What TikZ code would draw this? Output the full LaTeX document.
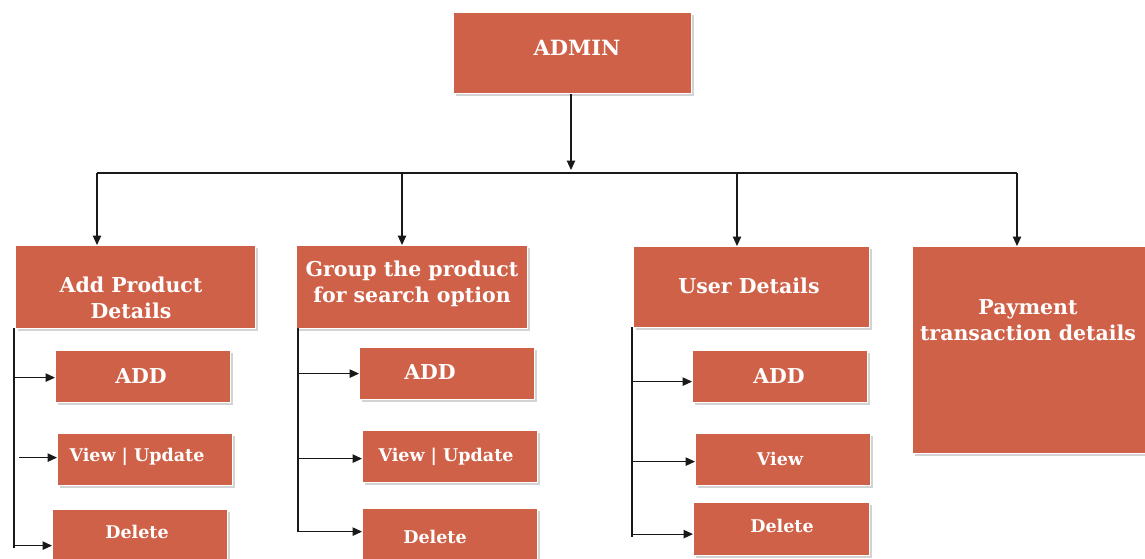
\documentclass[tikz,border=0pt]{standalone}
\usepackage{fontspec}
\setmainfont{DejaVu Serif}
\usetikzlibrary{arrows.meta,shadows}
\definecolor{brick}{RGB}{207,97,72}
\tikzset{
  box/.style={draw=white, line width=1.2pt, fill=brick, inner sep=0pt, anchor=north west,
    drop shadow={opacity=0.35, shadow xshift=2pt, shadow yshift=-2.5pt}},
  lbl/.style={text=white, font=\bfseries, align=center, inner sep=0pt},
  big/.style={lbl, font=\bfseries\fontsize{20.5}{26}\selectfont},
  small/.style={lbl, font=\bfseries\fontsize{17.5}{21}\selectfont},
  link/.style={draw=black!90, line width=1.1pt},
  arr/.style={link, -{Triangle[length=9.5pt,width=8.5pt]}},
}
\begin{document}
\begin{tikzpicture}[x=1pt,y=-1pt]
\useasboundingbox (0,0) rectangle (1145,558);
\clip (0,0) rectangle (1145,558);

% top level
\node[box, minimum width=238pt, minimum height=81pt] (admin) at (453,12) {};
\node[lbl, font=\bfseries\fontsize{21}{25}\selectfont] (adminT) at (577,48) {ADMIN};

% second level
\node[box, minimum width=240pt, minimum height=83pt] (prod) at (15,245) {};
\node[big] (prodT) at (131,298) {Add Product\\Details};
\node[box, minimum width=231pt, minimum height=83pt] (grp) at (296,245) {};
\node[big] (grpT) at (412,284) {Group the product\\for search option};
\node[box, minimum width=236pt, minimum height=81pt] (user) at (633,246) {};
\node[big] (userT) at (749,286) {User Details};
\node[box, minimum width=240pt, minimum height=207pt] (pay) at (912,246) {};
\node[big] (payT) at (1028,320) {Payment\\transaction details};

% third level, first column
\node[box, minimum width=175pt, minimum height=52pt] (addA) at (55,350) {};
\node[big] at (141,376) {ADD};
\node[box, minimum width=175pt, minimum height=52pt] (viewA) at (57,433) {};
\node[small] at (137,457) {View | Update};
\node[box, minimum width=175pt, minimum height=52pt] (delA) at (52,509) {};
\node[small] at (137,532) {Delete};

% third level, second column
\node[box, minimum width=175pt, minimum height=52pt] (addB) at (359,347) {};
\node[big] at (430,372) {ADD};
\node[box, minimum width=175pt, minimum height=52pt] (viewB) at (362,430) {};
\node[small] at (446,457) {View | Update};
\node[box, minimum width=175pt, minimum height=52pt] (delB) at (362,508) {};
\node[small] at (435,537) {Delete};

% third level, third column
\node[box, minimum width=175pt, minimum height=52pt] (addC) at (692,350) {};
\node[big] at (779,376) {ADD};
\node[box, minimum width=175pt, minimum height=52pt] (viewC) at (695,433) {};
\node[small] at (780,459) {View};
\node[box, minimum width=176pt, minimum height=53pt] (delC) at (693,502) {};
\node[small] at (782,526) {Delete};

% bus under ADMIN
\coordinate (bus) at (571,170);
\coordinate (busL) at (97,173);
\coordinate (busR) at (1017,173);
\draw[arr] (admin.south -| bus) -- (bus);
\draw[link] (busL) -- (busR);
\coordinate (d2) at (402,173);
\coordinate (d3) at (737,173);
\draw[arr] (busL) -- (busL |- prod.north);
\draw[arr] (d2) -- (d2 |- grp.north);
\draw[arr] (d3) -- (d3 |- user.north);
\draw[arr] (busR) -- (busR |- pay.north);

% branches to the sub-items
\coordinate (vA) at (14,328);
\coordinate (vAe) at (14,548);
\draw[link] (vA) -- (vAe);
\draw[arr] ([yshift=-1pt]vA |- addA.west) -- ([yshift=-1pt]addA.west);
\draw[arr] ([xshift=5pt,yshift=2pt]vA |- viewA.west) -- ([yshift=2pt]viewA.west);
\draw[arr] ([yshift=-10pt]vA |- delA.west) -- ([yshift=-10pt]delA.west);

\coordinate (vB) at (298,328);
\coordinate (vBe) at (298,532);
\draw[link] (vB) -- (vBe);
\draw[arr] (vB |- addB.west) -- (addB.west);
\draw[arr] ([yshift=-2pt]vB |- viewB.west) -- ([yshift=-2pt]viewB.west);
\draw[arr] ([yshift=3pt]vB |- delB.west) -- ([yshift=3pt]delB.west);

\coordinate (vC) at (632,327);
\coordinate (vCe) at (632,537);
\draw[link] (vC) -- (vCe);
\draw[arr] ([yshift=-5pt]vC |- addC.west) -- ([yshift=-5pt]addC.west);
\draw[arr] ([yshift=-2pt]vC |- viewC.west) -- ([yshift=-2pt]viewC.west);
\draw[arr] ([yshift=-5pt]vC |- delC.west) -- ([yshift=-5pt]delC.west);
\end{tikzpicture}
\end{document}
